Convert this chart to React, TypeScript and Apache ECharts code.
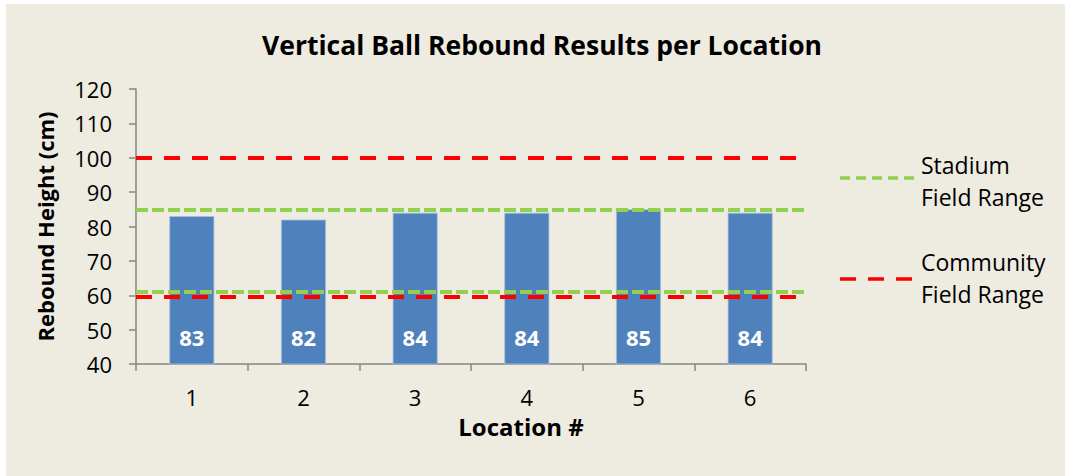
import React, { useEffect, useRef } from "react";
import * as echarts from "echarts";

const categories = ["1", "2", "3", "4", "5", "6"];
const reboundHeights = [83, 82, 84, 84, 85, 84];
const stadiumRange = [85, 61];
const communityRange = [100, 59.5];
const yTicks = { min: 40, max: 120, interval: 10 };

const FONT = "Open Sans";

export default function App() {
  const ref = useRef<HTMLDivElement>(null);
  useEffect(() => {
    if (!ref.current) return;
    const chart = echarts.init(ref.current, undefined, { renderer: "svg" });
    const option: any = {
      animation: false,
      backgroundColor: "#EEEBE0",
      textStyle: { fontFamily: FONT },
      title: {
        text: "Vertical Ball Rebound Results per Location",
        left: 531,
        textAlign: "center",
        top: 22,
        textStyle: { fontFamily: FONT, fontSize: 26.5, fontWeight: "bold", color: "#000" },
      },
      grid: { left: 130, top: 85, right: 259, bottom: 112 },
      xAxis: {
        type: "category",
        data: categories,
        name: "Location #",
        nameLocation: "middle",
        nameGap: 50,
        nameTextStyle: { fontFamily: FONT, fontSize: 24, fontWeight: "bold", color: "#000", padding: [0, 0, 0, 100] },
        axisLine: { lineStyle: { color: "#868686", width: 1.5 } },
        axisTick: { show: true, length: 7, lineStyle: { color: "#868686", width: 1.5 } },
        axisLabel: { fontFamily: FONT, fontSize: 22, color: "#000", margin: 22 },
      },
      yAxis: {
        type: "value",
        min: yTicks.min,
        max: yTicks.max,
        interval: yTicks.interval,
        name: "Rebound Height (cm)",
        nameLocation: "middle",
        nameGap: 80,
        nameTextStyle: { fontFamily: FONT, fontSize: 22, fontWeight: "bold", color: "#000" },
        axisLine: { show: true, lineStyle: { color: "#868686", width: 1.5 } },
        axisTick: { show: true, length: 7, lineStyle: { color: "#868686", width: 1.5 } },
        axisLabel: { fontFamily: FONT, fontSize: 22, color: "#000", margin: 24 },
        splitLine: { show: false },
      },
      series: [
        {
          type: "bar",
          data: reboundHeights,
          barWidth: 45,
          itemStyle: { color: "#4F81BD", borderColor: "#A7C0DE", borderWidth: 0.8 },
          label: {
            show: true,
            position: "insideBottom",
            distance: 16,
            color: "#fff",
            fontFamily: FONT,
            fontSize: 22,
            fontWeight: "bold",
          },
          z: 2,
        },
        {
          type: "line",
          name: "Stadium Field Range",
          data: [],
          z: 5,
          markLine: {
            silent: true,
            symbol: ["none", "none"],
            label: { show: false },
            lineStyle: { color: "#92D050", type: [12, 4], width: 4 },
            data: stadiumRange.map((v) => ({ yAxis: v })),
            z: 5,
          },
        },
        {
          type: "line",
          name: "Community Field Range",
          data: [],
          z: 6,
          markLine: {
            silent: true,
            symbol: ["none", "none"],
            label: { show: false },
            lineStyle: { color: "#FF0000", type: [16, 12], width: 4 },
            data: communityRange.map((v) => ({ yAxis: v })),
            z: 6,
          },
        },
      ],
      graphic: [
        {
          type: "line",
          shape: { x1: 834, y1: 174, x2: 908, y2: 174 },
          style: { stroke: "#92D050", lineWidth: 3.5, lineDash: [10, 6] },
        },
        {
          type: "text",
          x: 915,
          y: 177,
          style: {
            text: "Stadium\nField Range",
            fontFamily: FONT,
            fontSize: 23,
            lineHeight: 32,
            fill: "#000",
            verticalAlign: "middle",
          },
        },
        {
          type: "line",
          shape: { x1: 834, y1: 275, x2: 908, y2: 275 },
          style: { stroke: "#FF0000", lineWidth: 3.5, lineDash: [16, 12] },
        },
        {
          type: "text",
          x: 915,
          y: 274,
          style: {
            text: "Community\nField Range",
            fontFamily: FONT,
            fontSize: 23,
            lineHeight: 32,
            fill: "#000",
            verticalAlign: "middle",
          },
        },
      ],
    };
    chart.setOption(option);
    return () => chart.dispose();
  }, []);
  return (
    <div style={{ position: "fixed", inset: 0, background: "#fff" }}>
      <div
        ref={ref}
        style={{ position: "absolute", left: 6, top: 4, width: 1059, height: 472 }}
      />
    </div>
  );
}
